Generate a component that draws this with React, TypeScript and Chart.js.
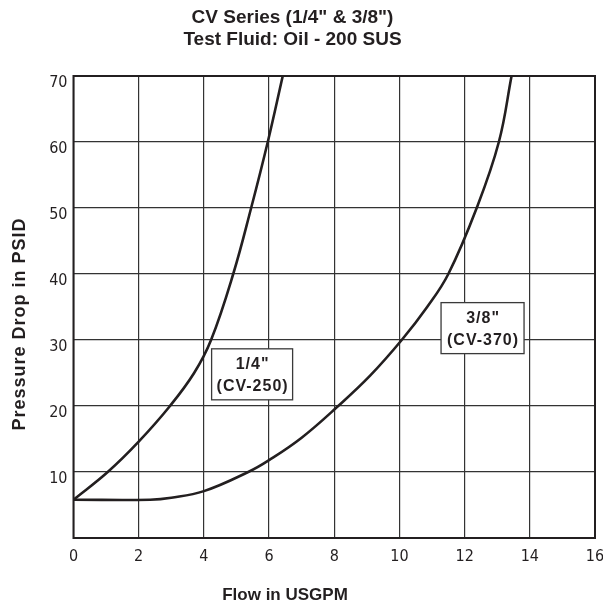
import React, { useEffect, useRef } from "react";
import { Chart, registerables } from "chart.js";

Chart.register(...registerables);

// ---- data ----
const xTickValues = [0, 2, 4, 6, 8, 10, 12, 14, 16];
const yTickValues = [0, 10, 20, 30, 40, 50, 60, 70];

const quarterFlow = [0, 1.05, 2, 2.96, 3.7, 4.22, 4.9, 5.45, 5.96, 6.42];
const quarterPsid = [5.8, 10, 14.6, 20, 25, 30, 40, 50, 60, 70];

const threeEighthFlow = [0, 2.35, 3, 4, 5.36, 6, 7, 8.12, 9.1, 10.07, 10.85, 11.5, 12.37, 13.05, 13.44];
const threeEighthPsid = [5.8, 5.8, 6.1, 7.1, 10, 11.8, 15.2, 20, 24.6, 30, 35, 40, 50, 60, 70];

const titleLines = ['CV Series (1/4" & 3/8")', "Test Fluid: Oil - 200 SUS"];
const xAxisTitle = "Flow in USGPM";
const yAxisTitle = "Pressure Drop in PSID";

const curveLabels = [
  ['1/4"', "(CV-250)"],
  ['3/8"', "(CV-370)"],
];
const curveLabelFlow = [5.48, 12.55];
const curveLabelPsid = [24.8, 31.8];

const BOLD = '"Liberation Sans", Arial, Helvetica, sans-serif';
const NARROW = '"Liberation Sans Narrow", "DejaVu Sans Condensed", "Roboto Condensed", "Liberation Sans", sans-serif';

const toPoints = (xs: number[], ys: number[]) => xs.map((x, i) => ({ x, y: ys[i] }));

const decorPlugin = {
  id: "decor",
  afterDatasetsDraw(chart: any) {
    const { ctx, chartArea, scales } = chart;
    ctx.save();
    // frame
    ctx.strokeStyle = "#231f20";
    ctx.lineWidth = 2;
    ctx.strokeRect(chartArea.left, chartArea.top, chartArea.right - chartArea.left, chartArea.bottom - chartArea.top);

    // curve label boxes
    const boxW = [81, 83];
    const boxH = 51;
    curveLabels.forEach((lines, i) => {
      const cx = scales.x.getPixelForValue(curveLabelFlow[i]);
      const cy = scales.y.getPixelForValue(curveLabelPsid[i]);
      const w = boxW[i];
      ctx.fillStyle = "#ffffff";
      ctx.fillRect(cx - w / 2, cy - boxH / 2, w, boxH);
      ctx.strokeStyle = "#3a3a3a";
      ctx.lineWidth = 1.3;
      ctx.strokeRect(cx - w / 2, cy - boxH / 2, w, boxH);
      ctx.fillStyle = "#231f20";
      ctx.font = `bold 16px ${BOLD}`;
      ctx.textAlign = "center";
      ctx.textBaseline = "middle";
      try { (ctx as any).letterSpacing = "1px"; } catch (e) {}
      ctx.fillText(lines[0], cx + 0.5, cy - 10);
      ctx.fillText(lines[1], cx + 0.5, cy + 12);
      try { (ctx as any).letterSpacing = "0px"; } catch (e) {}
    });
    ctx.restore();
  },
  afterDraw(chart: any) {
    const { ctx } = chart;
    ctx.save();
    ctx.fillStyle = "#231f20";
    ctx.textAlign = "center";
    ctx.textBaseline = "middle";
    ctx.font = `bold 19px ${BOLD}`;
    ctx.fillText(titleLines[0], 292.5, 18);
    ctx.fillText(titleLines[1], 292.5, 40);

    ctx.font = `bold 17px ${BOLD}`;
    ctx.fillText(xAxisTitle, 285, 595);

    ctx.translate(20, 324);
    ctx.rotate(-Math.PI / 2);
    ctx.font = `bold 18px ${BOLD}`;
    try { (ctx as any).letterSpacing = "1px"; } catch (e) {}
    ctx.fillText(yAxisTitle, 0, 0);
    try { (ctx as any).letterSpacing = "0px"; } catch (e) {}
    ctx.restore();
  },
};

export default function App() {
  const canvasRef = useRef<HTMLCanvasElement | null>(null);

  useEffect(() => {
    const canvas = canvasRef.current;
    if (!canvas) return;
    const lineStyle = {
      borderColor: "#231f20",
      borderWidth: 2.6,
      pointRadius: 0,
      showLine: true,
      fill: false,
      tension: 0.4,
    };
    const chart = new Chart(canvas, {
      type: "scatter",
      data: {
        datasets: [
          { label: '1/4" (CV-250)', data: toPoints(quarterFlow, quarterPsid), ...lineStyle },
          { label: '3/8" (CV-370)', data: toPoints(threeEighthFlow, threeEighthPsid), ...lineStyle },
        ],
      },
      options: {
        responsive: false,
        animation: false,
        devicePixelRatio: 1,
        layout: { padding: { top: 76, right: 8, left: 0, bottom: 0 } },
        plugins: {
          legend: { display: false },
          tooltip: { enabled: false },
          title: { display: false },
        },
        scales: {
          x: {
            type: "linear",
            min: 0,
            max: 16,
            afterBuildTicks: (scale: any) => {
              scale.ticks = xTickValues.map((v) => ({ value: v }));
            },
            afterFit: (scale: any) => {
              scale.height = 72;
              scale.paddingLeft = 0;
              scale.paddingRight = 0;
            },
            grid: { color: "#333333", lineWidth: 1.2, drawTicks: false },
            border: { display: false },
            ticks: {
              padding: 9,
              color: "#231f20",
              font: { family: NARROW, size: 16 },
              maxRotation: 0,
            },
          },
          y: {
            type: "linear",
            min: 0,
            max: 70,
            afterBuildTicks: (scale: any) => {
              scale.ticks = yTickValues.map((v) => ({ value: v }));
            },
            afterFit: (scale: any) => {
              scale.width = 73.5;
              scale.paddingTop = 0;
              scale.paddingBottom = 0;
            },
            grid: { color: "#333333", lineWidth: 1.2, drawTicks: false },
            border: { display: false },
            ticks: {
              padding: 6,
              labelOffset: 6.5,
              color: "#231f20",
              font: { family: NARROW, size: 16 },
              callback: (v: any) => (v === 0 ? "" : String(v)),
            },
          },
        },
      },
      plugins: [decorPlugin],
    });
    return () => chart.destroy();
  }, []);

  return (
    <div style={{ position: "absolute", left: 0, top: 0, width: 603, height: 610, background: "#fff" }}>
      <canvas ref={canvasRef} width={603} height={610} style={{ display: "block" }} />
    </div>
  );
}
